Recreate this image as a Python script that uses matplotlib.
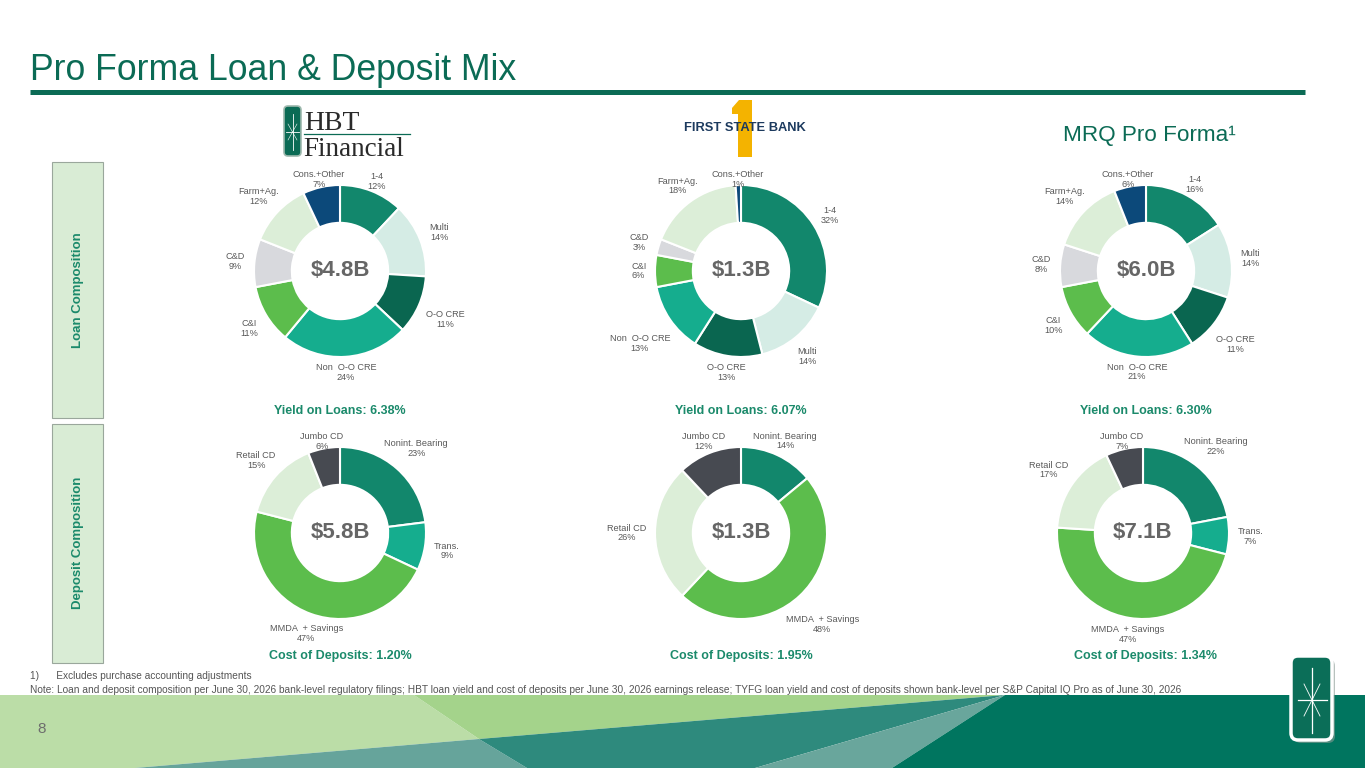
import numpy as np
import matplotlib.pyplot as plt
from matplotlib.patches import Polygon, Rectangle, FancyBboxPatch

plt.rcParams['font.family'] = ['Liberation Sans', 'DejaVu Sans']

W, H = 1365, 768

# ---- data ----
loan_cats = ["1-4", "Multi", "O-O CRE", "Non  O-O CRE", "C&I", "C&D", "Farm+Ag.", "Cons.+Other"]
hbt_loans = [12, 14, 11, 24, 11, 9, 12, 7]
fsb_loans = [32, 14, 13, 13, 6, 3, 18, 1]
pf_loans = [16, 14, 11, 21, 10, 8, 14, 6]
loan_colors = ["#12876C", "#D5ECE5", "#0A6650", "#15AD8E", "#5CBD4C", "#D8D9DD", "#DCEED8", "#0C497A"]

dep_cats = ["Nonint. Bearing", "Trans.", "MMDA  + Savings", "Retail CD", "Jumbo CD"]
hbt_deps = [23, 9, 47, 15, 6]
fsb_deps = [14, 0, 48, 26, 12]
pf_deps = [22, 7, 47, 17, 7]
dep_colors = ["#12876C", "#15AD8E", "#5CBD4C", "#DCEED8", "#474A51"]

loan_totals = ["$4.8B", "$1.3B", "$6.0B"]
dep_totals = ["$5.8B", "$1.3B", "$7.1B"]
loan_yields = [6.38, 6.07, 6.30]
dep_costs = [1.20, 1.95, 1.34]

GREEN = "#0B6B55"
TEAL_TXT = "#1B8A6B"

fig = plt.figure(figsize=(W / 100, H / 100), dpi=100)
bg = fig.add_axes([0, 0, 1, 1])
bg.set_xlim(0, W)
bg.set_ylim(H, 0)
bg.axis('off')

# title + rule
bg.text(30, 80, "Pro Forma Loan & Deposit Mix", fontsize=25.7, color=GREEN, va='baseline')
bg.plot([30, 1305], [91.5, 91.5], color=GREEN, lw=3.6, solid_capstyle='butt')
bg.text(1063, 141, "MRQ Pro Forma\u00b9", fontsize=16.2, color=GREEN, va='baseline')

# HBT logo
bg.add_patch(FancyBboxPatch((284, 106), 17, 50, boxstyle="round,pad=0,rounding_size=4",
                            fc=GREEN, ec="#9DB8AD", lw=1.2))
bg.plot([292.5, 292.5], [114, 150], color='white', lw=0.6)
bg.plot([286, 299], [132, 132], color='white', lw=0.6)
bg.plot([288, 297], [124, 140], color='white', lw=0.4)
bg.plot([297, 288], [124, 140], color='white', lw=0.4)
bg.text(304, 130, "HBT", family='Liberation Serif', fontsize=20, color='#2A2A2A', va='baseline')
bg.plot([304, 410], [133.5, 133.5], color=GREEN, lw=0.9)
bg.text(303, 156, "Financial", family='Liberation Serif', fontsize=19.5, color='#2A2A2A', va='baseline')

# First State Bank logo: gold "1" drawn as a shape behind the wordmark
bg.add_patch(Polygon([(739, 100), (752, 100), (752, 157), (738, 157), (738, 114),
                      (732, 114), (732, 108)], closed=True, fc="#F4B300", ec='none'))
bg.text(744.5, 128, "FIRST STATE BANK", fontsize=9.3, fontweight='bold', color="#1C3A5E",
        ha='center', va='center', zorder=5)

# side boxes
bg.add_patch(Rectangle((52, 162), 51, 256, fc="#D9ECD5", ec="#9AA79C", lw=0.8))
bg.add_patch(Rectangle((52, 424), 51, 239, fc="#D9ECD5", ec="#9AA79C", lw=0.8))
bg.text(77.5, 290, "Loan Composition", rotation=90, fontsize=9.5, fontweight='bold',
        color=TEAL_TXT, ha='center', va='center')
bg.text(77.5, 543, "Deposit Composition", rotation=90, fontsize=9.5, fontweight='bold',
        color=TEAL_TXT, ha='center', va='center')

# footnotes
bg.text(30, 676, "1)      Excludes purchase accounting adjustments", fontsize=7.3, color='#555555', va='center')
bg.text(30, 690, "Note: Loan and deposit composition per June 30, 2026 bank-level regulatory filings; HBT loan yield "
        "and cost of deposits per June 30, 2026 earnings release; TYFG loan yield and cost of deposits shown "
        "bank-level per S&P Capital IQ Pro as of June 30, 2026", fontsize=7.3, color='#555555', va='center')

# bottom band
band = [
    ([(0, 695), (414, 695), (479, 739), (135, 768), (0, 768)], "#BBDDA7"),
    ([(414, 695), (1005, 695), (479, 739)], "#A4D38B"),
    ([(135, 768), (479, 739), (527, 768)], "#66A49B"),
    ([(479, 739), (1005, 695), (755, 768), (527, 768)], "#2E8A7D"),
    ([(1005, 695), (755, 768), (892, 768)], "#69A69C"),
    ([(1005, 695), (1365, 695), (1365, 768), (892, 768)], "#00755F"),
]
for pts, c in band:
    bg.add_patch(Polygon(pts, closed=True, fc=c, ec='none'))
bg.text(42, 729, "8", fontsize=11, color='#6D6D6D', ha='center', va='center')

# bottom-right emblem
bg.add_patch(FancyBboxPatch((1294, 659), 41, 84, boxstyle="round,pad=0,rounding_size=7",
                            fc="#8A9A94", ec='none', alpha=0.6))
bg.add_patch(FancyBboxPatch((1291, 656), 41, 84, boxstyle="round,pad=0,rounding_size=7",
                            fc="#0B6E58", ec='white', lw=2.5))
sx, sy = 1312, 700
bg.plot([sx, sx], [668, 733], color='white', lw=0.9)
bg.plot([1298, 1327], [sy, sy], color='white', lw=0.9)
bg.plot([1304, 1320], [684, 716], color='white', lw=0.6)
bg.plot([1320, 1304], [684, 716], color='white', lw=0.6)


def donut(cx, cy, r, values, labels, colors, total):
    L = 1.75
    half = L * r
    ax = fig.add_axes([(cx - half) / W, 1 - (cy + half) / H, 2 * half / W, 2 * half / H])
    keep = [i for i, v in enumerate(values) if v > 0]
    wedges, _ = ax.pie([values[i] for i in keep], colors=[colors[i] for i in keep],
                       startangle=90, counterclock=False, radius=1,
                       wedgeprops=dict(width=0.44, edgecolor='white', linewidth=1.5))
    ax.set_xlim(-L, L)
    ax.set_ylim(-L, L)
    ax.set_aspect('equal')
    ax.axis('off')
    ax.text(0, 0, total, ha='center', va='center', fontsize=16, fontweight='bold', color='#666666')
    rend = fig.canvas.get_renderer()
    for w, i in zip(wedges, keep):
        th = np.deg2rad((w.theta1 + w.theta2) / 2)
        t = ax.text(0, 0, f"{labels[i]}\n{values[i]}%", ha='center', va='center',
                    fontsize=6.6, color='#595959', linespacing=1.1)
        bb = t.get_window_extent(rend)
        # text box with side margins, like a slide label box
        a, b = (0.5 * bb.width + 10) / r, 0.5 * bb.height / r
        # push the label out along the mid-angle until its box clears the ring
        d = 0.9
        while True:
            x, y = d * np.cos(th), d * np.sin(th)
            gx, gy = max(abs(x) - a, 0), max(abs(y) - b, 0)
            if np.hypot(gx, gy) >= 0.98:
                break
            d += 0.01
        drop = 7 if np.sin(th) < 0 else 2.5
        t.set_position((x, y - drop / r * abs(np.sin(th))))
    return ax


cols = [340, 741, 1146]
loan_sets = [hbt_loans, fsb_loans, pf_loans]
dep_sets = [hbt_deps, fsb_deps, pf_deps]
for k, cx in enumerate(cols):
    donut(cx, 271, 86, loan_sets[k], loan_cats, loan_colors, loan_totals[k])
    donut(cx - (3 if k == 2 else 0), 533, 86, dep_sets[k], dep_cats, dep_colors, dep_totals[k])
    bg.text(cx, 411, f"Yield on Loans: {loan_yields[k]:.2f}%", fontsize=9, fontweight='bold',
            color=TEAL_TXT, ha='center', va='center')
    bg.text(cx, 656, f"Cost of Deposits: {dep_costs[k]:.2f}%", fontsize=9, fontweight='bold',
            color=TEAL_TXT, ha='center', va='center')

fig.savefig("out.png", dpi=100)
